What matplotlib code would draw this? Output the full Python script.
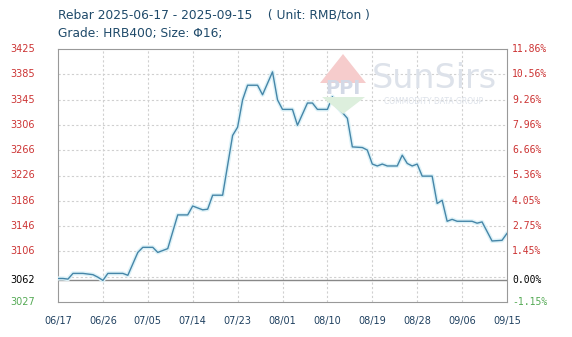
import numpy as np
import pandas as pd
import matplotlib
matplotlib.use("Agg")
import matplotlib.pyplot as plt
from matplotlib.patches import Polygon

# price points (date, RMB/ton)
dates = ['2025-06-17', '2025-06-18', '2025-06-19', '2025-06-20', '2025-06-22', '2025-06-23',
         '2025-06-24', '2025-06-25', '2025-06-26', '2025-06-27', '2025-06-30', '2025-07-01',
         '2025-07-03', '2025-07-04', '2025-07-06', '2025-07-07', '2025-07-09', '2025-07-11',
         '2025-07-13', '2025-07-14', '2025-07-16', '2025-07-17', '2025-07-18', '2025-07-20',
         '2025-07-22', '2025-07-23', '2025-07-24', '2025-07-25', '2025-07-27', '2025-07-28',
         '2025-07-30', '2025-07-31', '2025-08-01', '2025-08-03', '2025-08-04', '2025-08-06',
         '2025-08-07', '2025-08-08', '2025-08-10', '2025-08-11', '2025-08-12', '2025-08-14',
         '2025-08-15', '2025-08-17', '2025-08-18', '2025-08-19', '2025-08-20', '2025-08-21',
         '2025-08-22', '2025-08-24', '2025-08-25', '2025-08-26', '2025-08-27', '2025-08-28',
         '2025-08-29', '2025-08-31', '2025-09-01', '2025-09-02', '2025-09-03', '2025-09-04',
         '2025-09-05', '2025-09-08', '2025-09-09', '2025-09-10', '2025-09-12', '2025-09-14',
         '2025-09-15']
prices = [3064, 3064, 3063, 3072, 3072, 3071, 3070, 3066, 3061, 3072, 3072, 3069,
          3105, 3113, 3113, 3105, 3111, 3164, 3164, 3178, 3172, 3173, 3195, 3195,
          3289, 3302, 3345, 3368, 3368, 3353, 3389, 3345, 3330, 3330, 3305, 3340,
          3340, 3330, 3330, 3350, 3334, 3316, 3271, 3270, 3266, 3244, 3241, 3244,
          3241, 3241, 3258, 3245, 3241, 3244, 3225, 3225, 3182, 3187, 3154, 3157,
          3154, 3154, 3151, 3153, 3123, 3124, 3135]

base = 3062
ymin, ymax = 3027, 3425
left_labels = ['3106', '3146', '3186', '3226', '3266', '3306', '3345', '3385', '3425']
right_labels = ['1.45%', '2.75%', '4.05%', '5.36%', '6.66%', '7.96%', '9.26%', '10.56%', '11.86%']
xlabels = ['06/17', '06/26', '07/05', '07/14', '07/23', '08/01', '08/10', '08/19', '08/28', '09/06', '09/15']

x = pd.to_datetime(dates)
start = pd.Timestamp('2025-06-17')
xd = (x - start).days.values

fig = plt.figure(figsize=(5.72, 3.37), dpi=100)
ax = fig.add_axes([58/572, 1-302/337, 449/572, 253/337])

gy = np.linspace(ymin, ymax, 11)
for g in gy[1:-1]:
    ax.axhline(g, color='#d0d0d0', lw=0.8, ls=(0, (2, 2)), zorder=0)
xt = np.arange(0, 91, 9)
for t in xt[1:-1]:
    ax.axvline(t, color='#d0d0d0', lw=0.8, ls=(0, (2, 2)), zorder=0)
ax.axhline(base, color='#888888', lw=1, zorder=1)

# watermark logo
tr = fig.transFigure
fig.patches.append(Polygon([(320/572, 1-83/337), (343/572, 1-54/337), (366/572, 1-83/337)],
                           closed=True, transform=tr, fc='#f6cccc', ec='none', zorder=2))
fig.patches.append(Polygon([(322/572, 1-97/337), (365/572, 1-97/337), (343/572, 1-114/337)],
                           closed=True, transform=tr, fc='#ddefdd', ec='none', zorder=2))
fig.text(343/572, 1-89/337, 'PPI', ha='center', va='center', fontsize=14, color='#d3d9e6',
         fontweight='bold', zorder=2)
fig.text(434/572, 1-78/337, 'SunSirs', ha='center', va='center', fontsize=24, color='#dde2ea', zorder=2)
fig.text(434/572, 1-101/337, 'COMMODITY DATA GROUP', ha='center', va='center', fontsize=5.5,
         color='#dde2ea', zorder=2)

ax.plot(xd, prices, color='#ddf2f8', lw=3, zorder=3)
ax.plot(xd, prices, color='#4686a8', lw=1, zorder=4)

ax.set_xlim(0, 90)
ax.set_ylim(ymin, ymax)
ax.set_xticks(xt)
ax.set_xticklabels(xlabels, fontsize=7, color='#1f4060')
ax.tick_params(axis='x', length=0, pad=10)
ax.set_yticks([])
for s in ax.spines.values():
    s.set_color('#999999')

for g, lab in zip(gy[2:], left_labels):
    ax.text(-0.052, g, lab, transform=ax.get_yaxis_transform(), ha='right', va='center',
            fontsize=7, color='#cc3333')
ax.text(-0.052, base, str(base), transform=ax.get_yaxis_transform(), ha='right', va='center',
        fontsize=7, color='black')
ax.text(-0.052, ymin, str(ymin), transform=ax.get_yaxis_transform(), ha='right', va='center',
        fontsize=7, color='#55aa55')

for g, lab in zip(gy[2:], right_labels):
    ax.text(1.011, g, lab, transform=ax.get_yaxis_transform(), ha='left', va='center',
            fontsize=7, color='#cc3333', family='DejaVu Sans Mono')
ax.text(1.011, base, '0.00%', transform=ax.get_yaxis_transform(), ha='left', va='center',
        fontsize=7, color='black', family='DejaVu Sans Mono')
ax.text(1.011, ymin, '-1.15%', transform=ax.get_yaxis_transform(), ha='left', va='center',
        fontsize=7, color='#55aa55', family='DejaVu Sans Mono')

fig.text(58/572, 1-15/337, 'Rebar 2025-06-17 - 2025-09-15    ( Unit: RMB/ton )', ha='left',
         va='center', fontsize=8.8, color='#1f4a6a')
fig.text(58/572, 1-34/337, 'Grade: HRB400; Size: \u03a616;', ha='left', va='center',
         fontsize=8.8, color='#1f4a6a')

fig.savefig('out.png', dpi=100)
